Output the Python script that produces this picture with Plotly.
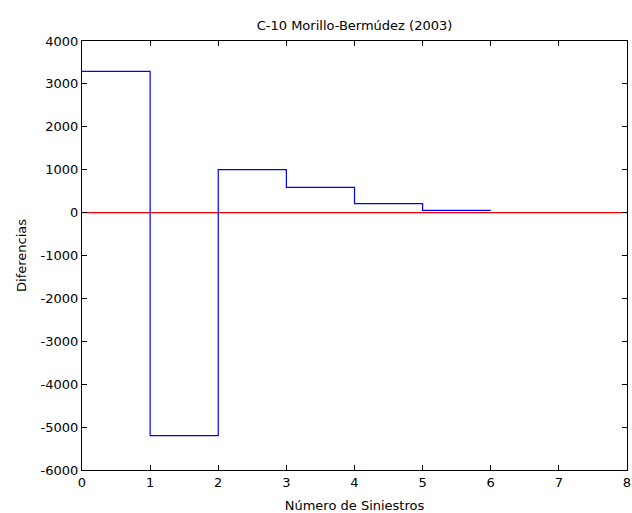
import plotly.graph_objects as go

x_vals = [0, 1, 2, 3, 4, 5, 6]
diferencias = [3290, -5200, 1000, 590, 210, 50, 50]
ref_x = [0, 8]
ref_y = [0, 0]
x_ticks = list(range(9))
y_ticks = list(range(-6000, 4001, 1000))
y_ticklabels = [str(v) for v in y_ticks]  # hyphen-minus like the reference

FONT = dict(family="DejaVu Sans", size=13, color="black")

fig = go.Figure()
fig.add_trace(go.Scatter(x=ref_x, y=ref_y, mode="lines",
                         line=dict(color="#ff0000", width=1.2), showlegend=False))
fig.add_trace(go.Scatter(x=x_vals, y=diferencias, mode="lines", line_shape="hv",
                         line=dict(color="#0000ff", width=1.2), showlegend=False))

axis_common = dict(showgrid=False, zeroline=False, showline=True, linecolor="black",
                   linewidth=1, mirror="ticks", ticks="inside", ticklen=5,
                   tickcolor="black", tickfont=FONT, automargin=False)

fig.update_layout(
    width=632, height=513,
    margin=dict(l=82, r=5, t=41, b=43),
    paper_bgcolor="white", plot_bgcolor="white",
    title=dict(text="C-10 Morillo-Bermúdez (2003)", xref="paper", x=0.5, xanchor="center",
               y=1 - 25/513, yanchor="middle", font=FONT),
    xaxis=dict(range=[0, 8], tickvals=x_ticks, ticktext=[str(v) for v in x_ticks],
               title=dict(text="Número de Siniestros", standoff=12, font=FONT),
               **axis_common),
    yaxis=dict(range=[-6000, 4000], tickvals=y_ticks, ticktext=y_ticklabels,
               title=dict(text="Diferencias", standoff=11, font=FONT),
               **axis_common),
)

fig.write_html(
    "out.html",
    config={"displayModeBar": False},
    post_script="document.body.style.margin='0';document.body.style.overflow='hidden';"
                "document.documentElement.style.overflow='hidden';",
)
